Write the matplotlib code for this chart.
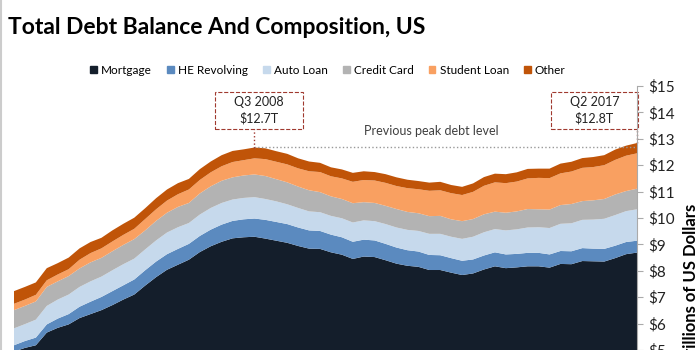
import numpy as np
import matplotlib.pyplot as plt
from matplotlib.patches import Patch, Rectangle
from matplotlib.lines import Line2D

plt.rcParams['font.family'] = ['Lato', 'DejaVu Sans']

# quarters 2003Q1 .. 2017Q2
quarters = [f"Q{q} {y}" for y in range(2003, 2018) for q in range(1, 5)][:58]

# trillions of US dollars
mortgage = [4.94, 5.08, 5.18, 5.66, 5.84, 5.97, 6.21, 6.36,
            6.51, 6.70, 6.91, 7.10, 7.44, 7.76, 8.04, 8.23,
            8.42, 8.71, 8.93, 9.10, 9.23, 9.27, 9.29, 9.22,
            9.14, 9.06, 8.94, 8.84, 8.83, 8.70, 8.61, 8.45,
            8.54, 8.52, 8.40, 8.27, 8.19, 8.15, 8.03, 8.03,
            7.93, 7.84, 7.90, 8.05, 8.17, 8.10, 8.13, 8.17,
            8.17, 8.12, 8.26, 8.25, 8.37, 8.36, 8.35, 8.48,
            8.63, 8.69]
he_revolving = [0.24, 0.26, 0.29, 0.31, 0.35, 0.39, 0.43, 0.47,
                0.50, 0.53, 0.54, 0.57, 0.58, 0.59, 0.59, 0.60,
                0.60, 0.61, 0.63, 0.65, 0.66, 0.68, 0.69, 0.71,
                0.71, 0.71, 0.70, 0.69, 0.68, 0.67, 0.66, 0.65,
                0.64, 0.63, 0.62, 0.61, 0.59, 0.58, 0.57, 0.56,
                0.55, 0.54, 0.53, 0.53, 0.53, 0.52, 0.51, 0.51,
                0.51, 0.50, 0.49, 0.49, 0.49, 0.48, 0.48, 0.47,
                0.46, 0.45]
auto_loan = [0.64, 0.64, 0.68, 0.70, 0.72, 0.74, 0.75, 0.77,
             0.77, 0.79, 0.80, 0.79, 0.79, 0.80, 0.82, 0.82,
             0.79, 0.81, 0.82, 0.82, 0.81, 0.81, 0.81, 0.79,
             0.78, 0.75, 0.74, 0.72, 0.71, 0.71, 0.72, 0.73,
             0.73, 0.73, 0.75, 0.76, 0.77, 0.78, 0.80, 0.81,
             0.81, 0.83, 0.86, 0.88, 0.88, 0.91, 0.93, 0.96,
             0.97, 1.00, 1.03, 1.06, 1.07, 1.10, 1.14, 1.16,
             1.17, 1.19]
credit_card = [0.69, 0.69, 0.69, 0.72, 0.69, 0.70, 0.70, 0.72,
               0.71, 0.72, 0.73, 0.74, 0.72, 0.74, 0.75, 0.77,
               0.76, 0.80, 0.82, 0.84, 0.84, 0.85, 0.86, 0.87,
               0.84, 0.83, 0.81, 0.80, 0.76, 0.74, 0.73, 0.73,
               0.69, 0.69, 0.69, 0.70, 0.68, 0.67, 0.67, 0.68,
               0.66, 0.67, 0.67, 0.68, 0.66, 0.67, 0.68, 0.70,
               0.68, 0.70, 0.71, 0.73, 0.71, 0.73, 0.75, 0.78,
               0.76, 0.78]
student_loan = [0.24, 0.24, 0.25, 0.25, 0.26, 0.26, 0.33, 0.35,
                0.36, 0.37, 0.38, 0.39, 0.43, 0.44, 0.46, 0.48,
                0.51, 0.51, 0.53, 0.55, 0.58, 0.58, 0.61, 0.64,
                0.66, 0.68, 0.69, 0.72, 0.76, 0.76, 0.78, 0.81,
                0.84, 0.85, 0.87, 0.87, 0.90, 0.91, 0.96, 0.97,
                0.99, 0.99, 1.03, 1.08, 1.11, 1.12, 1.13, 1.16,
                1.19, 1.19, 1.20, 1.23, 1.26, 1.26, 1.28, 1.31,
                1.34, 1.34]
other = [0.48, 0.48, 0.47, 0.46, 0.43, 0.44, 0.43, 0.42,
         0.40, 0.42, 0.42, 0.42, 0.41, 0.42, 0.42, 0.42,
         0.40, 0.41, 0.41, 0.42, 0.42, 0.41, 0.41, 0.41,
         0.40, 0.40, 0.38, 0.37, 0.35, 0.34, 0.34, 0.34,
         0.33, 0.32, 0.33, 0.33, 0.32, 0.31, 0.31, 0.32,
         0.31, 0.31, 0.32, 0.33, 0.33, 0.34, 0.35, 0.36,
         0.35, 0.36, 0.37, 0.37, 0.37, 0.38, 0.38, 0.39,
         0.38, 0.39]

labels = ['Mortgage', 'HE Revolving', 'Auto Loan', 'Credit Card', 'Student Loan', 'Other']
colors = ['#141e2b', '#5b8abf', '#c6d9ec', '#b3b3b3', '#f9a061', '#c05408']
yticks = list(range(0, 16))

series = [mortgage, he_revolving, auto_loan, credit_card, student_loan, other]
x = np.arange(len(quarters))
total = np.sum(series, axis=0)

fig = plt.figure(figsize=(7, 3.5), dpi=100)
# axes runs below the bottom of the figure, like the cropped original
ax = fig.add_axes([14/700, (350-482)/350, 623/700, 396/350])

ax.stackplot(x, *series, colors=colors, linewidth=0)
ax.set_xlim(0, len(x) - 1)
ax.set_ylim(0, 15)

ax.yaxis.tick_right()
ax.yaxis.set_label_position('right')
ax.set_yticks(yticks)
ax.set_yticklabels([f'${v}' for v in yticks], fontsize=11, color='#222222')
ax.tick_params(axis='y', length=4, color='#aaaaaa', pad=4)
ax.set_xticks([])
for s in ['top', 'left', 'bottom']:
    ax.spines[s].set_visible(False)
ax.spines['right'].set_color('#aaaaaa')
ax.set_ylabel('Trillions of US Dollars', fontsize=12, fontweight='bold', labelpad=6)

# previous peak and latest point
peak = int(np.argmax(total[:40]))
last = len(x) - 1
box_w, box_h, box_y = 8.0, 1.4, 13.37
ax.plot([peak, last], [round(total[peak], 1)] * 2, ls=':', color='#999999', lw=1, clip_on=False)
ax.plot([peak, peak], [total[peak], box_y], ls=':', color='#a0392f', lw=1, clip_on=False)
ax.plot([last, last], [total[last], box_y], ls=':', color='#a0392f', lw=1, clip_on=False)
for cx, i in [(peak + 0.4, peak), (last - box_w / 2 + 0.1, last)]:
    ax.add_patch(Rectangle((cx - box_w / 2, box_y), box_w, box_h, fill=False,
                           ec='#a0392f', ls='--', lw=0.8, clip_on=False))
    ax.text(cx, box_y + box_h / 2, f'{quarters[i]}\n${total[i]:.1f}T', ha='center', va='center',
            fontsize=9, color='#222222', linespacing=1.4)
ax.text(38.2, 13.3, 'Previous peak debt level', ha='center', va='center',
        fontsize=9, color='#404040')

fig.text(0.011, 1 - 28/350, 'Total Debt Balance And Composition, US', fontsize=16.5,
         fontweight='bold', va='center', ha='left')
handles = [Patch(color=c, label=l) for c, l in zip(colors, labels)]
fig.legend(handles=handles, loc='center', bbox_to_anchor=(328/700, 1 - 70/350), ncol=6,
           frameon=False, fontsize=8.5, handlelength=0.55, handleheight=0.55,
           handletextpad=0.35, columnspacing=1.3)

# thin slide border on the left
fig.add_artist(Line2D([0.002, 0.002], [0, 1], color='#cccccc', lw=1.5))

fig.savefig('out.png', dpi=100)
